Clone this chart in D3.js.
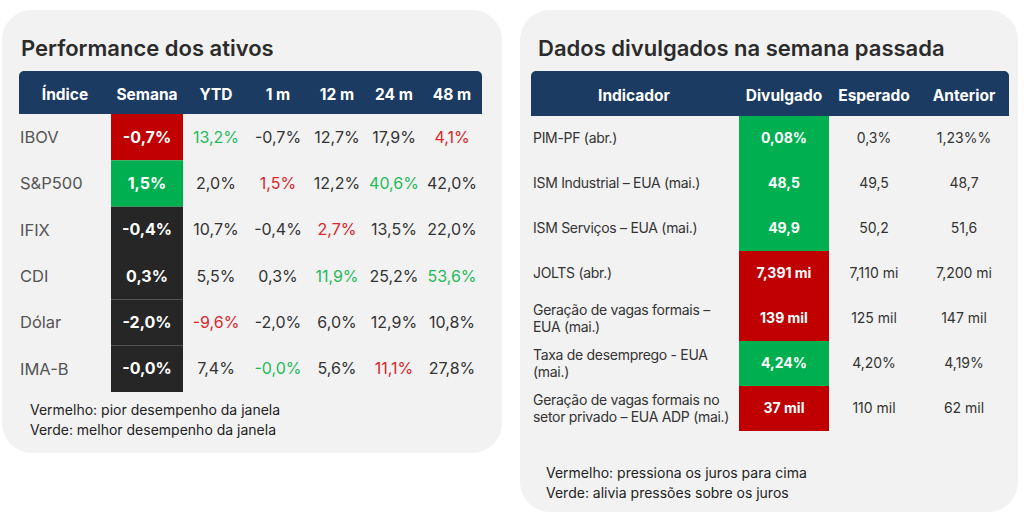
<!DOCTYPE html>
<html lang="pt">
<head>
<meta charset="UTF-8">
<title>Performance dos ativos</title>
<style>
  html, body { margin: 0; padding: 0; background: #fff; }
  body { font-family: Inter, "Noto Sans", sans-serif; }
  svg { display: block; }
</style>
</head>
<body>
<svg id="svg" width="1024" height="520"></svg>
<script src="https://d3js.org/d3.v7.min.js"></script>
<script>
// ---- left table: performance dos ativos ----
const perfCols = ["Índice", "Semana", "YTD", "1 m", "12 m", "24 m", "48 m"];
const perfRows = ["IBOV", "S&P500", "IFIX", "CDI", "Dólar", "IMA-B"];
const perfValues = [
  ["-0,7%", "13,2%", "-0,7%", "12,7%", "17,9%", "4,1%"],
  ["1,5%", "2,0%", "1,5%", "12,2%", "40,6%", "42,0%"],
  ["-0,4%", "10,7%", "-0,4%", "2,7%", "13,5%", "22,0%"],
  ["0,3%", "5,5%", "0,3%", "11,9%", "25,2%", "53,6%"],
  ["-2,0%", "-9,6%", "-2,0%", "6,0%", "12,9%", "10,8%"],
  ["-0,0%", "7,4%", "-0,0%", "5,6%", "11,1%", "27,8%"]
];
// r = pior, g = melhor, "" = neutro
const perfFlags = [
  ["r", "g", "", "", "", "r"],
  ["g", "", "r", "", "g", ""],
  ["", "", "", "r", "", ""],
  ["", "", "", "g", "", "g"],
  ["", "r", "", "", "", ""],
  ["", "", "g", "", "r", ""]
];
const perfNotes = ["Vermelho: pior desempenho da janela", "Verde: melhor desempenho da janela"];

// ---- right table: dados divulgados ----
const dataCols = ["Indicador", "Divulgado", "Esperado", "Anterior"];
const dataRows = [
  ["PIM-PF  (abr.)"],
  ["ISM Industrial – EUA (mai.)"],
  ["ISM Serviços – EUA (mai.)"],
  ["JOLTS (abr.)"],
  ["Geração de vagas formais –", "EUA (mai.)"],
  ["Taxa de desemprego - EUA", "(mai.)"],
  ["Geração de vagas formais no", "setor privado – EUA ADP (mai.)"]
];
const divulgado = ["0,08%", "48,5", "49,9", "7,391 mi", "139 mil", "4,24%", "37 mil"];
const esperado = ["0,3%", "49,5", "50,2", "7,110 mi", "125 mil", "4,20%", "110 mil"];
const anterior = ["1,23%%", "48,7", "51,6", "7,200 mi", "147 mil", "4,19%", "62 mil"];
const dataFlags = ["g", "g", "g", "r", "r", "g", "r"];
const dataNotes = ["Vermelho: pressiona os juros para cima", "Verde: alivia pressões sobre os juros"];

const navy = "#1c3b63";
const cellFill = { r: "#c00000", g: "#00b050", "": "#262626" };
const textFill = { r: "#d8262c", g: "#1fba5a", "": "#333" };

const svg = d3.select("#svg");

// header bar with rounded top corners only
function headerPath(x0, x1, y0, y1, r) {
  const p = d3.path();
  p.moveTo(x0, y1);
  p.lineTo(x0, y0 + r);
  p.arcTo(x0, y0, x0 + r, y0, r);
  p.lineTo(x1 - r, y0);
  p.arcTo(x1, y0, x1, y0 + r, r);
  p.lineTo(x1, y1);
  p.closePath();
  return p.toString();
}

// ================= left panel =================
const left = svg.append("g");
left.append("rect")
  .attr("x", 2).attr("y", 10).attr("width", 500).attr("height", 443)
  .attr("rx", 30).attr("fill", "#f2f2f2");

left.append("text")
  .attr("x", 21).attr("y", 56)
  .attr("font-size", 22).attr("font-weight", 600).attr("fill", "#2b2b2b")
  .text("Performance dos ativos");

const perfX = d3.scaleOrdinal()
  .domain(perfCols)
  .range([65, 147, 216, 278, 337, 394, 452]);

const perfY = d3.scaleBand()
  .domain(perfRows)
  .range([114, 392]);

left.append("path")
  .attr("d", headerPath(19, 482, 71, 114, 5))
  .attr("fill", navy);

left.selectAll("text.hd")
  .data(perfCols)
  .join("text")
  .attr("class", "hd")
  .attr("x", d => perfX(d))
  .attr("y", 95)
  .attr("dy", "0.35em")
  .attr("text-anchor", "middle")
  .attr("font-size", 15.5).attr("font-weight", 700).attr("fill", "#fff")
  .text(d => d);

// Semana column cells
left.selectAll("rect.wk")
  .data(perfRows)
  .join("rect")
  .attr("class", "wk")
  .attr("x", 111)
  .attr("y", d => perfY(d))
  .attr("width", 72)
  .attr("height", perfY.bandwidth())
  .attr("fill", (d, i) => cellFill[perfFlags[i][0]]);

left.selectAll("text.rl")
  .data(perfRows)
  .join("text")
  .attr("class", "rl")
  .attr("x", 20)
  .attr("y", d => perfY(d) + perfY.bandwidth() / 2)
  .attr("dy", "0.35em")
  .attr("font-size", 16.5).attr("fill", "#555")
  .text(d => d);

perfRows.forEach((row, i) => {
  left.selectAll(null)
    .data(perfValues[i])
    .join("text")
    .attr("x", (d, j) => perfX(perfCols[j + 1]))
    .attr("y", perfY(row) + perfY.bandwidth() / 2)
    .attr("dy", "0.35em")
    .attr("text-anchor", "middle")
    .attr("font-size", 16)
    .attr("font-weight", (d, j) => j === 0 ? 700 : 400)
    .attr("fill", (d, j) => j === 0 ? "#fff" : textFill[perfFlags[i][j]])
    .text(d => d);
});

left.selectAll("text.nt")
  .data(perfNotes)
  .join("text")
  .attr("class", "nt")
  .attr("x", 30)
  .attr("y", (d, i) => 415 + i * 20)
  .attr("font-size", 14).attr("fill", "#222")
  .text(d => d);

// ================= right panel =================
const right = svg.append("g");
right.append("rect")
  .attr("x", 520).attr("y", 10).attr("width", 498).attr("height", 502)
  .attr("rx", 30).attr("fill", "#f2f2f2");

right.append("text")
  .attr("x", 538).attr("y", 56)
  .attr("font-size", 22).attr("font-weight", 600).attr("fill", "#2b2b2b")
  .text("Dados divulgados na semana passada");

const dataX = d3.scaleOrdinal()
  .domain(dataCols)
  .range([634, 784, 874, 964]);

const dataY = d3.scaleBand()
  .domain(d3.range(dataRows.length))
  .range([116, 431]);

right.append("path")
  .attr("d", headerPath(531, 1009, 71, 116, 5))
  .attr("fill", navy);

right.selectAll("text.hd")
  .data(dataCols)
  .join("text")
  .attr("class", "hd")
  .attr("x", d => dataX(d))
  .attr("y", 96)
  .attr("dy", "0.35em")
  .attr("text-anchor", "middle")
  .attr("font-size", 15.5).attr("font-weight", 700).attr("fill", "#fff")
  .text(d => d);

right.selectAll("rect.dv")
  .data(dataFlags)
  .join("rect")
  .attr("class", "dv")
  .attr("x", 739)
  .attr("y", (d, i) => dataY(i))
  .attr("width", 90)
  .attr("height", dataY.bandwidth())
  .attr("fill", d => cellFill[d]);

const lineH = 17;
right.selectAll("text.rl")
  .data(dataRows)
  .join("text")
  .attr("class", "rl")
  .attr("font-size", 14).attr("letter-spacing", -0.3).attr("fill", "#333")
  .each(function (lines, i) {
    const cy = dataY(i) + dataY.bandwidth() / 2;
    d3.select(this).selectAll("tspan")
      .data(lines)
      .join("tspan")
      .attr("x", 533)
      .attr("y", (d, k) => cy + (k - (lines.length - 1) / 2) * lineH)
      .attr("dy", "0.35em")
      .text(d => d);
  });

[divulgado, esperado, anterior].forEach((col, c) => {
  right.selectAll(null)
    .data(col)
    .join("text")
    .attr("x", dataX(dataCols[c + 1]))
    .attr("y", (d, i) => dataY(i) + dataY.bandwidth() / 2)
    .attr("dy", "0.35em")
    .attr("text-anchor", "middle")
    .attr("font-size", 14)
    .attr("font-weight", c === 0 ? 700 : 400)
    .attr("fill", c === 0 ? "#fff" : "#333")
    .text(d => d);
});

right.selectAll("text.nt")
  .data(dataNotes)
  .join("text")
  .attr("class", "nt")
  .attr("x", 546)
  .attr("y", (d, i) => 478 + i * 20)
  .attr("font-size", 14).attr("fill", "#222")
  .text(d => d);
</script>
</body>
</html>
